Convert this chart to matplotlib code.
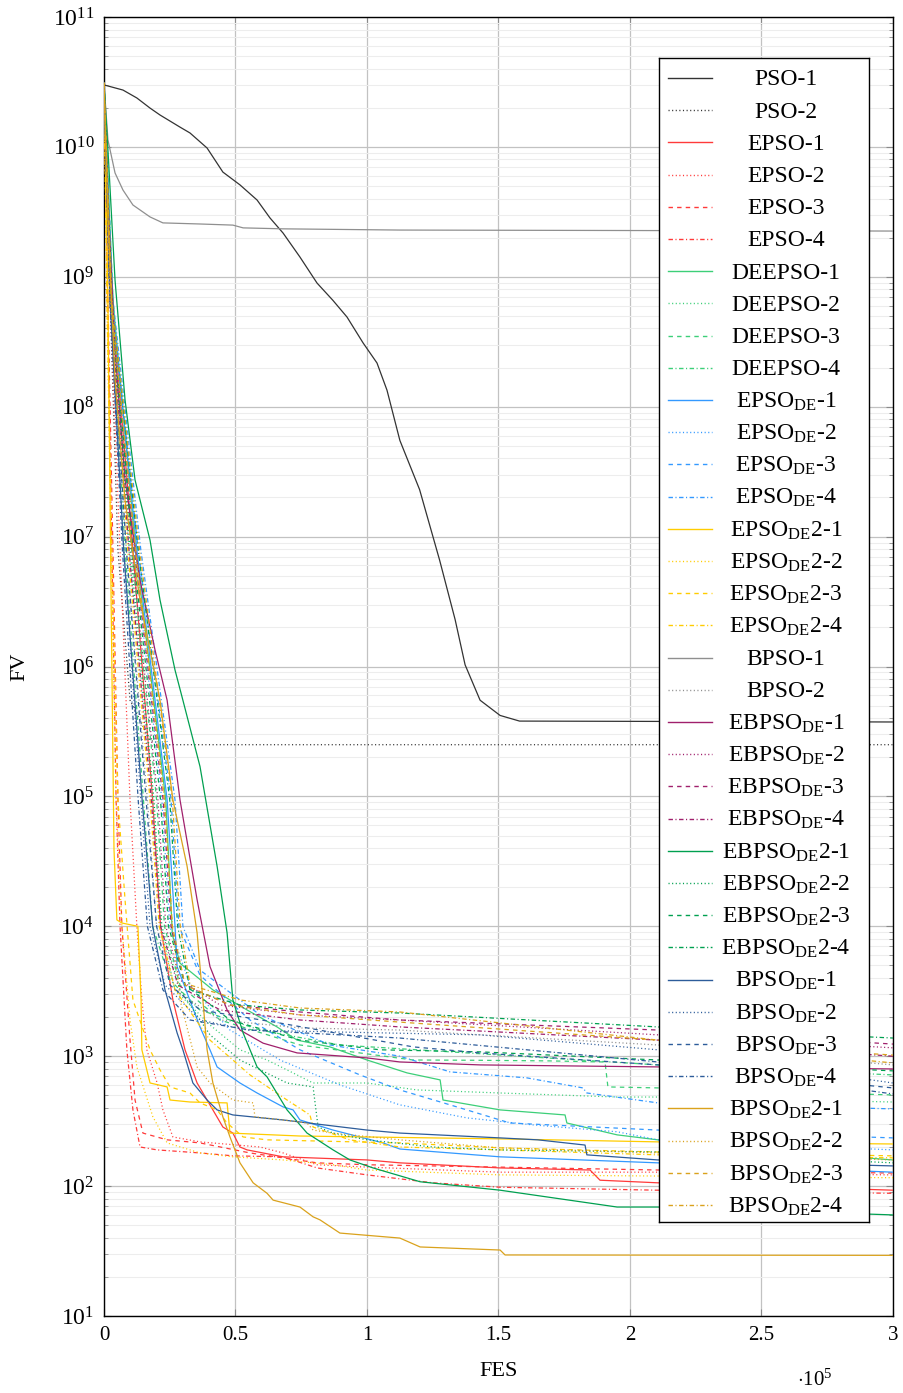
import matplotlib
matplotlib.use("Agg")
import matplotlib.pyplot as plt
from matplotlib.ticker import FixedLocator, LogLocator, FuncFormatter, NullFormatter

plt.rcParams['font.family'] = ['Liberation Serif', 'DejaVu Serif']
plt.rcParams['mathtext.fontset'] = 'custom'
plt.rcParams['mathtext.rm'] = 'Liberation Serif'
plt.rcParams['mathtext.it'] = 'Liberation Serif:italic'
plt.rcParams['lines.scale_dashes'] = False

# ---- convergence histories: function evaluations (FES) vs best fitness value (FV) ----
pso1_fes = [0, 7200, 12500, 17500, 21300, 28900, 32700, 39200, 45200, 51700, 58200, 63100, 68100, 74500, 81000,
            87000, 92400, 98500, 103800, 107600, 112500, 120000, 127600, 133500, 137300, 143000, 150600, 158000, 300000]
pso1_fv = [3.0e10, 2.74e10, 2.38e10, 1.99e10, 1.76e10, 1.42e10, 1.28e10, 9.8e9, 6.4e9, 5.1e9, 3.9e9, 2.84e9, 2.17e9,
           1.42e9, 8.95e8, 6.6e8, 4.9e8, 3.1e8, 2.17e8, 1.34e8, 5.5e7, 2.3e7, 6.6e6, 2.3e6, 1.03e6, 5.5e5, 4.2e5, 3.8e5, 3.74e5]
pso2_fes = [0, 2300, 5300, 9900, 17500, 23200, 300000]
pso2_fv = [3.1e10, 6.6e8, 7.9e6, 5.5e5, 2.7e5, 2.5e5, 2.5e5]

epso1_fes = [0, 3000, 11000, 18500, 21500, 26200, 30800, 35400, 41400, 45200, 49000, 51700, 54400, 68100, 100000,
             112500, 150600, 184800, 188600, 210600, 300000]
epso1_fv = [3.1e10, 6.6e8, 7.9e6, 9.4e4, 1.0e4, 2710, 1120, 622, 386, 285, 256, 200, 190, 168, 159, 151, 138, 133, 111, 106, 93]
epso2_fes = [0, 2300, 6100, 9900, 12500, 14400, 16300, 20200, 22400, 26200, 36500, 59300, 68100, 81000, 100000, 150600, 210600, 300000]
epso2_fv = [3.1e10, 6.6e8, 7.9e6, 9.4e4, 1.0e4, 2710, 1120, 622, 386, 239, 219, 200, 180, 146, 140, 128, 128, 122]
epso3_fes = [0, 1500, 3400, 5300, 6800, 9900, 11800, 14800, 24000, 36500, 55500, 81000, 100000, 150600, 210600, 300000]
epso3_fv = [3.1e10, 6.6e8, 7.9e6, 9.4e4, 1.0e4, 1330, 460, 256, 227, 215, 180, 151, 146, 140, 133, 126]
epso4_fes = [0, 1500, 3000, 4600, 6100, 8700, 11000, 13700, 20200, 36500, 49000, 68100, 81000, 100000, 125100, 150600, 210600, 300000]
epso4_fv = [3.1e10, 4.65e8, 7.9e6, 9.4e4, 1.0e4, 1120, 386, 200, 190, 180, 171, 168, 138, 122, 106, 98, 93, 88]

deepso1_fes = [0, 3400, 12000, 23500, 26000, 28900, 41400, 54400, 65800, 73400, 85900, 100000, 115200, 127800, 128900,
               150600, 175300, 176000, 195100, 210600, 249400, 300000]
deepso1_fv = [3.1e10, 6.6e8, 7.9e6, 9.4e4, 8600, 5200, 3240, 2270, 1680, 1330, 1180, 935, 744, 657, 460, 386, 353, 306, 248, 227, 190, 159]
deepso2_fes = [0, 3000, 9500, 18500, 21500, 27000, 40300, 51700, 62000, 69600, 79500, 100000, 119000, 150600, 195100, 210600, 300000]
deepso2_fv = [3.1e10, 6.6e8, 7.9e6, 9.4e4, 1.0e4, 3240, 1740, 1120, 935, 784, 622, 622, 550, 521, 485, 485, 444]
deepso3_fes = [0, 3400, 10500, 20000, 23000, 28900, 44100, 74500, 117500, 143000, 169600, 190500, 191600, 210600, 300000]
deepso3_fv = [3.1e10, 6.6e8, 7.9e6, 9.4e4, 1.0e4, 3530, 1900, 1220, 935, 930, 920, 903, 580, 570, 503]
deepso4_fes = [0, 2700, 8000, 15000, 18500, 25100, 36500, 59300, 89700, 131600, 210600, 300000]
deepso4_fv = [3.1e10, 6.6e8, 7.9e6, 9.4e4, 1.0e4, 3860, 2270, 1590, 1220, 1080, 857, 718]

epsode1_fes = [0, 3000, 12500, 24000, 27000, 27800, 36500, 40300, 43000, 51700, 58200, 68100, 71900, 74500, 87100,
               106100, 112500, 150600, 210600, 300000]
epsode1_fv = [3.1e10, 6.6e8, 7.9e6, 9.4e4, 1.0e4, 4900, 1680, 1120, 827, 622, 521, 407, 386, 323, 270, 215, 193, 168, 151, 128]
epsode2_fes = [0, 3000, 11500, 22000, 25000, 32700, 47900, 66900, 89700, 112500, 138000, 163100, 195100, 210600, 300000]
epsode2_fv = [3.1e10, 6.6e8, 7.9e6, 9.4e4, 1.0e4, 3530, 1590, 935, 601, 422, 335, 296, 262, 227, 190]
epsode3_fes = [0, 3000, 13000, 25500, 28500, 36500, 55500, 74500, 97300, 112500, 131600, 154400, 210600, 300000]
epsode3_fv = [3.1e10, 6.6e8, 7.9e6, 9.4e4, 1.0e4, 4200, 1900, 1120, 718, 550, 422, 306, 270, 235]
epsode4_fes = [0, 3400, 14000, 27000, 30000, 36500, 59300, 85900, 112500, 131600, 160800, 182100, 183600, 210600, 300000]
epsode4_fv = [3.1e10, 6.6e8, 7.9e6, 9.4e4, 1.0e4, 4600, 2080, 1220, 1000, 757, 681, 570, 521, 437, 393]

epsode2_1_fes = [0, 1500, 2700, 3800, 4900, 6800, 12900, 14100, 14400, 17500, 24000, 25100, 32700, 46800, 47900,
                 74500, 150600, 210600, 300000]
epsode2_1_fv = [3.1e10, 6.6e8, 3.25e6, 3.9e4, 1.12e4, 1.06e4, 1.0e4, 2710, 1120, 622, 580, 460, 444, 437, 256, 243, 231, 219, 211]
epsode2_2_fes = [0, 1100, 2700, 4600, 6800, 9900, 12500, 18600, 24000, 36500, 49000, 68100, 87100, 100000, 150600, 300000]
epsode2_2_fv = [3.1e10, 6.6e8, 7.9e6, 9.4e4, 1.0e4, 1900, 827, 341, 215, 180, 168, 159, 146, 133, 122, 116]
epsode2_3_fes = [0, 1100, 3000, 5300, 8000, 11000, 17500, 21300, 25100, 32700, 36500, 43000, 46800, 52900, 62000,
                 112500, 150600, 210600, 300000]
epsode2_3_fv = [3.1e10, 6.6e8, 7.9e6, 9.4e4, 1.6e4, 2710, 1120, 784, 580, 521, 437, 386, 306, 239, 227, 215, 197, 183, 171]
epsode2_4_fes = [0, 2300, 9000, 17500, 21000, 27000, 40300, 55500, 69600, 78300, 79500, 93500, 112500, 150600, 210600, 300000]
epsode2_4_fv = [3.1e10, 6.6e8, 7.9e6, 9.4e4, 1.0e4, 3240, 1330, 718, 460, 353, 285, 227, 200, 190, 174, 165]

bpso1_fes = [0, 1500, 4200, 7200, 11000, 17500, 22400, 36500, 49000, 52900, 68100, 112500, 300000]
bpso1_fv = [3.1e10, 1.13e10, 6.3e9, 4.66e9, 3.57e9, 2.89e9, 2.6e9, 2.55e9, 2.5e9, 2.38e9, 2.34e9, 2.29e9, 2.25e9]
bpso2_fes = [0, 2300, 8500, 16500, 20000, 27000, 44100, 74500, 112500, 143000, 210600, 300000]
bpso2_fv = [3.1e10, 6.6e8, 7.9e6, 9.4e4, 1.0e4, 3240, 1900, 1650, 1590, 1460, 1220, 857]

ebpsode1_fes = [0, 1500, 4200, 8000, 13700, 19400, 24000, 28900, 35400, 40300, 46800, 51700, 60500, 73400, 100000,
                112500, 143000, 210600, 300000]
ebpsode1_fv = [3.1e10, 3.9e9, 2.7e8, 2.73e7, 4.6e6, 1.34e6, 5.5e5, 9.4e4, 1.6e4, 4900, 2270, 1590, 1260, 1060, 970, 903, 857, 827, 798]
ebpsode2_fes = [0, 2300, 10500, 20500, 23500, 28900, 44100, 74500, 112500, 210600, 300000]
ebpsode2_fv = [3.1e10, 6.6e8, 7.9e6, 9.4e4, 1.0e4, 3860, 2480, 2080, 1900, 1460, 1160]
ebpsode3_fes = [0, 2700, 11500, 22500, 25500, 30800, 47900, 74500, 112500, 210600, 300000]
ebpsode3_fv = [3.1e10, 6.6e8, 7.9e6, 9.4e4, 1.0e4, 3530, 2480, 2190, 1900, 1590, 1240]
ebpsode4_fes = [0, 2300, 9500, 18000, 21500, 28100, 44100, 74500, 112500, 210600, 300000]
ebpsode4_fv = [3.1e10, 6.6e8, 7.9e6, 9.4e4, 1.0e4, 3530, 2270, 1900, 1680, 1330, 1000]

ebpsode2_1_fes = [0, 1500, 4200, 8000, 11800, 17500, 21300, 27000, 30000, 36500, 43000, 46800, 49000, 52900, 58200,
                  62000, 69600, 77200, 87100, 93500, 102300, 112500, 120200, 150600, 195100, 210600, 300000]
ebpsode2_1_fv = [3.1e10, 9.5e9, 9.4e8, 1.13e8, 2.73e7, 9.4e6, 3.25e6, 9.4e5, 5.5e5, 1.7e5, 2.9e4, 8900, 2710, 1510,
                 827, 693, 386, 256, 190, 159, 138, 120, 108, 93, 69, 69, 60]
ebpsode2_2_fes = [0, 2700, 10000, 19000, 22000, 28900, 40300, 51700, 69600, 79500, 81400, 87100, 100000, 125100, 150600, 210600, 300000]
ebpsode2_2_fv = [3.1e10, 6.6e8, 7.9e6, 9.4e4, 1.0e4, 3240, 1460, 935, 622, 580, 285, 256, 227, 200, 190, 183, 151]
ebpsode2_3_fes = [0, 2700, 11000, 21500, 24500, 30800, 47900, 74500, 104900, 143000, 210600, 300000]
ebpsode2_3_fv = [3.1e10, 6.6e8, 7.9e6, 9.4e4, 1.0e4, 3530, 1900, 1330, 1120, 1080, 935, 771]
ebpsode2_4_fes = [0, 3000, 13000, 25000, 28000, 32700, 51700, 74500, 112500, 210600, 300000]
ebpsode2_4_fv = [3.1e10, 6.6e8, 7.9e6, 9.4e4, 1.0e4, 3240, 2480, 2270, 2150, 1680, 1380]

bpsode1_fes = [0, 2300, 7500, 14500, 18500, 23200, 27800, 30000, 33800, 39200, 43000, 49000, 68100, 100000, 112500,
               150600, 165000, 182900, 183600, 210600, 300000]
bpsode1_fv = [3.1e10, 6.6e8, 7.9e6, 9.4e4, 1.0e4, 3240, 1510, 1120, 622, 460, 386, 353, 323, 270, 256, 235, 227, 207, 174, 159, 143]
bpsode2_fes = [0, 2300, 7500, 14000, 17500, 23200, 36500, 54400, 85900, 143000, 210600, 300000]
bpsode2_fv = [3.1e10, 6.6e8, 7.9e6, 9.4e4, 1.0e4, 3530, 1900, 1590, 1540, 1460, 1120, 622]
bpsode3_fes = [0, 2300, 8500, 16000, 20000, 25100, 36500, 66900, 117500, 143000, 210600, 300000]
bpsode3_fv = [3.1e10, 6.6e8, 7.9e6, 9.4e4, 1.0e4, 3530, 2270, 1800, 1180, 1060, 857, 570]
bpsode4_fes = [0, 2300, 7000, 13000, 16500, 22400, 32700, 55500, 112500, 210600, 300000]
bpsode4_fv = [3.1e10, 6.6e8, 7.9e6, 9.4e4, 1.0e4, 3240, 1900, 1590, 1380, 903, 512]

bpsode2_1_fes = [0, 1500, 4200, 8000, 13700, 21300, 26200, 31600, 35400, 37600, 39200, 41400, 45200, 47900, 51700,
                 56700, 62000, 64300, 74500, 79500, 82100, 89700, 112500, 120200, 150600, 152500, 300000]
bpsode2_1_fv = [3.1e10, 2.74e9, 1.6e8, 1.9e7, 3.25e6, 5.5e5, 9.4e4, 2.9e4, 8900, 2710, 1120, 622, 341, 239, 151,
                106, 88, 78, 69, 58, 55, 43.5, 39.8, 34, 32.2, 29.5, 29.3]
bpsode2_2_fes = [0, 2300, 12000, 23000, 26000, 28900, 35400, 40300, 49000, 56700, 57400, 68100, 77200, 79500, 87100,
                 112500, 150600, 210600, 300000]
bpsode2_2_fv = [3.1e10, 6.6e8, 7.9e6, 9.4e4, 1.0e4, 2710, 827, 622, 460, 437, 341, 323, 306, 270, 256, 227, 197, 180, 159]
bpsode2_3_fes = [0, 2700, 12000, 23000, 26000, 30800, 47900, 74500, 112500, 210600, 300000]
bpsode2_3_fv = [3.1e10, 6.6e8, 7.9e6, 9.4e4, 1.0e4, 3530, 2480, 2080, 1830, 1330, 1020]
bpsode2_4_fes = [0, 3000, 13500, 26000, 29000, 32700, 51700, 74500, 112500, 210600, 300000]
bpsode2_4_fv = [3.1e10, 6.6e8, 7.9e6, 9.4e4, 1.0e4, 3530, 2710, 2350, 2190, 1330, 887]

x_ticks = [0, 50000, 100000, 150000, 200000, 250000, 300000]
y_ticks = [1e1, 1e2, 1e3, 1e4, 1e5, 1e6, 1e7, 1e8, 1e9, 1e10, 1e11]

# ---- styles ----
C_PSO, C_EPSO, C_DEEPSO = '#333333', '#ff3a3a', '#3ccf78'
C_EPSODE, C_EPSODE2, C_BPSO = '#3399ff', '#ffcc00', '#8f8f8f'
C_EBPSODE, C_EBPSODE2 = '#a0206c', '#00a050'
C_BPSODE, C_BPSODE2 = '#2d5c9a', '#daa21c'
SOLID = '-'
DOT = (0, (0.8, 1.8))
DASH = (0, (3.2, 3.0))
DASHDOT = (0, (3.2, 1.8, 0.8, 1.8))

series = [
    ('PSO-1', pso1_fes, pso1_fv, C_PSO, SOLID),
    ('PSO-2', pso2_fes, pso2_fv, C_PSO, DOT),
    ('EPSO-1', epso1_fes, epso1_fv, C_EPSO, SOLID),
    ('EPSO-2', epso2_fes, epso2_fv, C_EPSO, DOT),
    ('EPSO-3', epso3_fes, epso3_fv, C_EPSO, DASH),
    ('EPSO-4', epso4_fes, epso4_fv, C_EPSO, DASHDOT),
    ('DEEPSO-1', deepso1_fes, deepso1_fv, C_DEEPSO, SOLID),
    ('DEEPSO-2', deepso2_fes, deepso2_fv, C_DEEPSO, DOT),
    ('DEEPSO-3', deepso3_fes, deepso3_fv, C_DEEPSO, DASH),
    ('DEEPSO-4', deepso4_fes, deepso4_fv, C_DEEPSO, DASHDOT),
    (r'EPSO$_{\mathrm{DE}}$-1', epsode1_fes, epsode1_fv, C_EPSODE, SOLID),
    (r'EPSO$_{\mathrm{DE}}$-2', epsode2_fes, epsode2_fv, C_EPSODE, DOT),
    (r'EPSO$_{\mathrm{DE}}$-3', epsode3_fes, epsode3_fv, C_EPSODE, DASH),
    (r'EPSO$_{\mathrm{DE}}$-4', epsode4_fes, epsode4_fv, C_EPSODE, DASHDOT),
    (r'EPSO$_{\mathrm{DE}}$2-1', epsode2_1_fes, epsode2_1_fv, C_EPSODE2, SOLID),
    (r'EPSO$_{\mathrm{DE}}$2-2', epsode2_2_fes, epsode2_2_fv, C_EPSODE2, DOT),
    (r'EPSO$_{\mathrm{DE}}$2-3', epsode2_3_fes, epsode2_3_fv, C_EPSODE2, DASH),
    (r'EPSO$_{\mathrm{DE}}$2-4', epsode2_4_fes, epsode2_4_fv, C_EPSODE2, DASHDOT),
    ('BPSO-1', bpso1_fes, bpso1_fv, C_BPSO, SOLID),
    ('BPSO-2', bpso2_fes, bpso2_fv, C_BPSO, DOT),
    (r'EBPSO$_{\mathrm{DE}}$-1', ebpsode1_fes, ebpsode1_fv, C_EBPSODE, SOLID),
    (r'EBPSO$_{\mathrm{DE}}$-2', ebpsode2_fes, ebpsode2_fv, C_EBPSODE, DOT),
    (r'EBPSO$_{\mathrm{DE}}$-3', ebpsode3_fes, ebpsode3_fv, C_EBPSODE, DASH),
    (r'EBPSO$_{\mathrm{DE}}$-4', ebpsode4_fes, ebpsode4_fv, C_EBPSODE, DASHDOT),
    (r'EBPSO$_{\mathrm{DE}}$2-1', ebpsode2_1_fes, ebpsode2_1_fv, C_EBPSODE2, SOLID),
    (r'EBPSO$_{\mathrm{DE}}$2-2', ebpsode2_2_fes, ebpsode2_2_fv, C_EBPSODE2, DOT),
    (r'EBPSO$_{\mathrm{DE}}$2-3', ebpsode2_3_fes, ebpsode2_3_fv, C_EBPSODE2, DASH),
    (r'EBPSO$_{\mathrm{DE}}$2-4', ebpsode2_4_fes, ebpsode2_4_fv, C_EBPSODE2, DASHDOT),
    (r'BPSO$_{\mathrm{DE}}$-1', bpsode1_fes, bpsode1_fv, C_BPSODE, SOLID),
    (r'BPSO$_{\mathrm{DE}}$-2', bpsode2_fes, bpsode2_fv, C_BPSODE, DOT),
    (r'BPSO$_{\mathrm{DE}}$-3', bpsode3_fes, bpsode3_fv, C_BPSODE, DASH),
    (r'BPSO$_{\mathrm{DE}}$-4', bpsode4_fes, bpsode4_fv, C_BPSODE, DASHDOT),
    (r'BPSO$_{\mathrm{DE}}$2-1', bpsode2_1_fes, bpsode2_1_fv, C_BPSODE2, SOLID),
    (r'BPSO$_{\mathrm{DE}}$2-2', bpsode2_2_fes, bpsode2_2_fv, C_BPSODE2, DOT),
    (r'BPSO$_{\mathrm{DE}}$2-3', bpsode2_3_fes, bpsode2_3_fv, C_BPSODE2, DASH),
    (r'BPSO$_{\mathrm{DE}}$2-4', bpsode2_4_fes, bpsode2_4_fv, C_BPSODE2, DASHDOT),
]

W, H = 904, 1393
fig = plt.figure(figsize=(W / 100, H / 100), dpi=100)
ax = fig.add_axes([104 / W, 1 - 1316 / H, 789 / W, 1299 / H])

for label, fes, fv, color, ls in series:
    ax.plot(fes, fv, color=color, linestyle=ls, lw=0.9, zorder=3)

ax.set_yscale('log')
ax.set_xlim(0, 300000)
ax.set_ylim(10, 1e11)
ax.set_xticks(x_ticks)
ax.xaxis.set_major_formatter(FuncFormatter(lambda v, p: f'{v / 1e5:g}'))
ax.yaxis.set_major_locator(FixedLocator(y_ticks))
ax.yaxis.set_minor_locator(LogLocator(base=10, subs=range(2, 10), numticks=200))
ax.yaxis.set_minor_formatter(NullFormatter())

ax.grid(which='major', color='#c2c2c2', lw=0.9, zorder=0)
ax.grid(which='minor', axis='y', color='#ededed', lw=0.8, zorder=0)
ax.set_axisbelow(True)
ax.tick_params(which='both', direction='in', top=True, right=True, color='#8a8a8a')
ax.tick_params(which='major', length=5, pad=7)
ax.tick_params(which='minor', length=3)
ax.tick_params(axis='x', labelsize=15)
ax.tick_params(axis='y', labelsize=17)
for sp in ax.spines.values():
    sp.set_linewidth(1.0)
    sp.set_color('black')

ax.set_xlabel('FES', fontsize=16)
ax.xaxis.set_label_coords(0.5, -(1372 - 1316) / 1299)
ax.xaxis.label.set_va('center')
ax.set_ylabel('FV', fontsize=16)
ax.yaxis.set_label_coords(-(104 - 20) / 789, 0.5)
ax.yaxis.label.set_va('center')
fig.text(815 / W, 1 - 1380 / H, r'$\cdot 10^{5}$', ha='center', va='center', fontsize=15)

# legend drawn as a boxed panel with centred entry labels
leg = ax.inset_axes([(659 - 104) / 789, (1316 - 1222) / 1299, 210 / 789, 1164 / 1299])
leg.set_xlim(0, 210)
leg.set_ylim(1164, 0)
leg.set_xticks([])
leg.set_yticks([])
leg.set_facecolor('white')
leg.set_zorder(10)
for sp in leg.spines.values():
    sp.set_color('black')
    sp.set_linewidth(1.0)
for i, (label, fes, fv, color, ls) in enumerate(series):
    yy = 20 + 32.2 * i
    leg.plot([9, 53], [yy, yy], color=color, linestyle=ls, lw=1.0)
    leg.text(127, yy + 7.5, label, ha='center', va='baseline', fontsize=17)

fig.savefig('out.png', dpi=100)
